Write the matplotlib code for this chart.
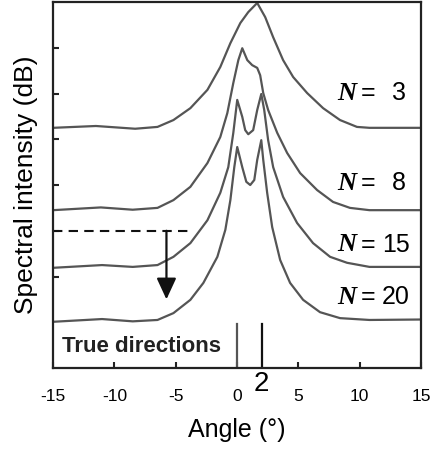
import matplotlib
matplotlib.use("Agg")
import matplotlib.pyplot as plt

# ───────────── data (angle in deg, level in dB) ─────────────
n3_angle = [-15, -11.5, -8.3, -6.48, -5.18, -3.8, -2.41, -1.36, -0.54, 0.27,
            0.92, 1.65, 2.3, 2.95, 3.76, 4.58, 5.72, 7.02, 8.4, 9.78, 10.8, 15]
n3_db = [52.5, 52.9, 52.3, 52.7, 54.2, 56.8, 60.8, 65.8, 71.0, 75.4,
         77.8, 79.8, 76.7, 72.3, 67.3, 63.6, 60.1, 56.8, 54.2, 52.7, 52.5, 52.5]

n8_angle = [-15, -11.1, -8.5, -6.48, -5.18, -3.8, -2.41, -1.36, -0.79, -0.3,
            0.11, 0.43, 0.84, 1.24, 1.65, 1.89, 2.14, 2.54, 3.28, 4.09, 5.15, 6.53,
            7.83, 9.21, 10.8, 15]
n8_db = [34.5, 35.1, 34.6, 35.0, 36.7, 39.6, 44.8, 50.5, 55.7, 62.3,
         67.3, 69.9, 67.3, 66.2, 65.6, 64.0, 60.1, 56.4, 51.4, 47.0, 42.6, 38.9,
         36.3, 35.0, 34.5, 34.5]

n15_angle = [-15, -11.0, -8.5, -6.48, -5.18, -3.8, -2.41, -1.36, -0.71, -0.3,
             0.02, 0.43, 0.67, 0.92, 1.32, 1.65, 1.98, 2.22, 2.54, 2.95, 3.76, 4.9,
             6.2, 7.59, 8.97, 10.8, 15]
n15_db = [21.9, 22.5, 22.1, 22.5, 24.3, 27.3, 32.3, 38.3, 43.9, 51.4,
          58.6, 54.9, 52.0, 51.1, 52.0, 56.4, 59.9, 56.4, 49.8, 43.9, 37.4, 31.7,
          27.3, 24.3, 23.0, 22.1, 22.1]

n20_angle = [-15, -11.0, -8.5, -6.48, -5.18, -3.8, -2.74, -1.6, -0.95, -0.54,
             -0.22, 0.02, 0.43, 0.76, 1.08, 1.41, 1.65, 1.98, 2.14, 2.46, 2.87, 3.52,
             4.33, 5.39, 6.77, 8.4, 10.8, 15]
n20_db = [10.1, 10.7, 10.2, 10.5, 12.0, 14.9, 18.6, 24.3, 30.2, 36.7,
          43.9, 48.3, 43.9, 40.7, 40.0, 41.1, 45.5, 49.8, 45.5, 38.3, 30.8, 23.6,
          18.6, 14.9, 12.2, 10.9, 10.5, 10.6]

curves = [(n3_angle, n3_db), (n8_angle, n8_db), (n15_angle, n15_db), (n20_angle, n20_db)]

# N labels: (number, x of "N", x of "=", x of number, y)
n_labels = [("3", 8.2, 10.1, 12.6, 60.1),
            ("8", 8.2, 10.1, 12.6, 40.4),
            ("15", 8.2, 10.1, 11.8, 26.9),
            ("20", 8.2, 10.1, 11.8, 15.5)]

true_dirs = [0, 2]
true_colors = ["#555555", "#111111"]
x_ticks = [-15, -10, -5, 0, 5, 10, 15]
y_ticks = [20, 30, 40, 50, 60, 70]

# ───────────── figure ─────────────
plt.rcParams["font.family"] = ["Liberation Sans", "DejaVu Sans"]
plt.rcParams["axes.unicode_minus"] = False
fig = plt.figure(figsize=(4.35, 4.49), dpi=100)
ax = fig.add_axes([0.1218, 0.1804, 0.846, 0.8151])

for xs, ys in curves:
    ax.plot(xs, ys, color="#555555", lw=1.6, solid_joinstyle="round",
            solid_capstyle="round")

# true directions
for xd, c in zip(true_dirs, true_colors):
    ax.plot([xd, xd], [0, 9.6], color=c, lw=1.6)
ax.text(-14.3, 4.8, "True directions", fontsize=16, fontweight="bold",
        ha="left", va="center", color="#222222")

# dashed reference + arrow
ax.plot([-15, -3.95], [30, 30], color="#111111", lw=1.5, ls=(0, (4.5, 3)))
ax.annotate("", xy=(-5.75, 15.0), xytext=(-5.75, 30),
            arrowprops=dict(arrowstyle="-|>,head_length=0.65,head_width=0.3",
                            mutation_scale=20, color="#111111", lw=1.6,
                            shrinkA=0, shrinkB=0))

for num, xn, xe, xv, yv in n_labels:
    ax.text(xn, yv, "N", fontsize=19, family="Liberation Serif",
            fontweight="bold", fontstyle="italic", ha="left", va="center")
    ax.text(xe, yv, "=", fontsize=18, ha="left", va="center")
    ax.text(xv, yv, num, fontsize=18, ha="left", va="center")

ax.set_xlim(-15, 15)
ax.set_ylim(0, 80)
ax.set_xticks(x_ticks)
ax.set_yticks(y_ticks)
ax.set_yticklabels([])
ax.tick_params(axis="both", direction="in", length=4, width=1.5, color="#222222")
ax.tick_params(axis="x", labelsize=12.5, pad=15)
ax.text(2, -0.045, "2", transform=ax.get_xaxis_transform(), fontsize=20,
        ha="center", va="center")

for sp in ax.spines.values():
    sp.set_linewidth(1.6)
    sp.set_color("#222222")

ax.set_xlabel("Angle (°)", fontsize=18, labelpad=10)
ax.set_ylabel("Spectral intensity (dB)", fontsize=19, labelpad=7)

fig.savefig("out.png", dpi=100)
